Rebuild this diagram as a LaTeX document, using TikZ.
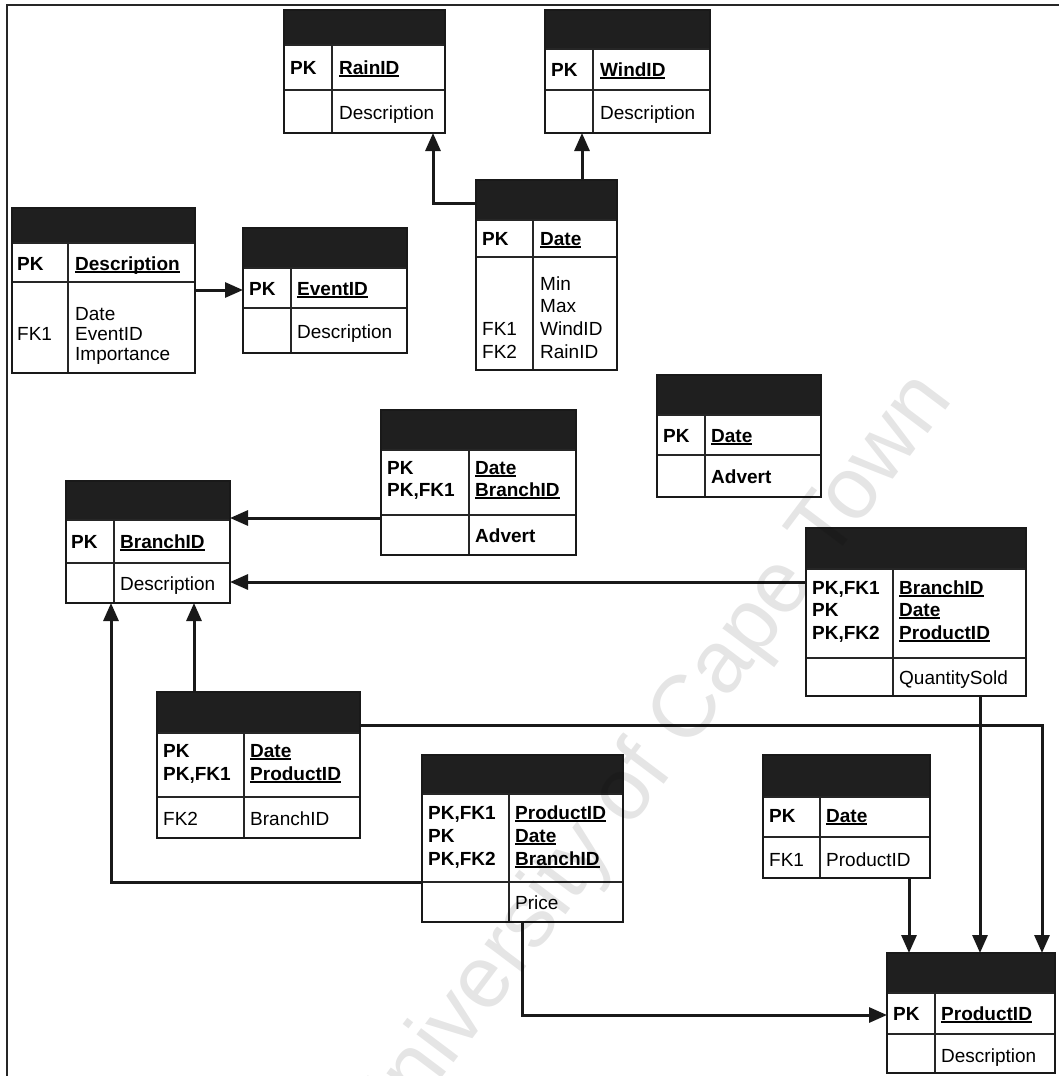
\documentclass[tikz,border=0pt]{standalone}
\usepackage{fontspec}
\setmainfont{Liberation Sans}
\usetikzlibrary{arrows.meta,fit}

% underlined bold key attribute
\newsavebox\ulbox
\newcommand\ukey[1]{\sbox\ulbox{\bfseries #1}\rlap{\rule[-3pt]{\wd\ulbox}{1.6pt}}\usebox\ulbox}

\tikzset{
  tblfit/.style={inner sep=0pt, outer sep=0pt},
  hdrfill/.style={fill=black!88},
  tblrule/.style={line width=2pt, black!85},
  tblframe/.style={line width=2.4pt, black!90},
  txt/.style={anchor=base west, inner sep=0pt, font=\fontsize{19}{22}\selectfont},
  boldtxt/.style={txt, font=\fontsize{19}{22}\selectfont\bfseries},
  fk/.style={line width=3pt, black!90, -{Triangle[length=18pt,width=15pt]}},
  pageframe/.style={line width=2pt, black!85},
  wmark/.style={inner sep=0pt, opacity=0.1, font=\fontsize{88}{88}\selectfont},
}

% table: name, x1, y1, x2, y2, column divider x, header bottom y, key rows bottom y
\newcommand\ertable[8]{%
  \node[tblfit, fit={(#2,#3) (#4,#5)}] (#1) {};
  \fill[hdrfill] (#2,#3) rectangle (#4,#7);
  \draw[tblrule] (#2,#7) -- (#4,#7) (#2,#8) -- (#4,#8) (#6,#7) -- (#6,#5);
  \draw[tblframe] (#2,#3) rectangle (#4,#5);
}

\begin{document}
\begin{tikzpicture}[x=1pt, y=-1pt]
\useasboundingbox (0,0) rectangle (1059,1076);
\fill[white] (0,0) rectangle (1059,1076);

% page frame (top and left edges)
\draw[pageframe] (7,1076) -- (7,5) -- (1059,5);

% ---- Rain ----
\ertable{rain}{284}{10}{445}{133}{332}{45}{90}
\node[boldtxt] (rain-pk) at (290,74) {PK};
\node[txt] (rain-id) at (339,74) {\ukey{RainID}};
\node[txt] (rain-desc) at (339,119) {Description};

% ---- Wind ----
\ertable{wind}{545}{10}{710}{133}{593}{49}{90}
\node[boldtxt] (wind-pk) at (551,76) {PK};
\node[txt] (wind-id) at (600,76) {\ukey{WindID}};
\node[txt] (wind-desc) at (600,119) {Description};

% ---- Weather ----
\ertable{weather}{476}{180}{617}{370}{533}{220}{257}
\node[boldtxt] (we-pk) at (482,245) {PK};
\node[txt] (we-date) at (540,245) {\ukey{Date}};
\node[txt] (we-min) at (540,290) {Min};
\node[txt] (we-max) at (540,312) {Max};
\node[txt] (we-wind) at (540,335) {WindID};
\node[txt] (we-rain) at (540,358) {RainID};
\node[txt] (we-fk1) at (482,335) {FK1};
\node[txt] (we-fk2) at (482,358) {FK2};

% ---- Events ----
\ertable{events}{12}{208}{195}{373}{68}{243}{282}
\node[boldtxt] (ev-pk) at (17,270) {PK};
\node[txt] (ev-desc) at (75,270) {\ukey{Description}};
\node[txt] (ev-date) at (75,320) {Date};
\node[txt] (ev-eid) at (75,340) {EventID};
\node[txt] (ev-imp) at (75,360) {Importance};
\node[txt] (ev-fk1) at (17,340) {FK1};

% ---- Event types ----
\ertable{eventid}{243}{228}{407}{353}{291}{268}{308}
\node[boldtxt] (et-pk) at (249,295) {PK};
\node[txt] (et-id) at (297,295) {\ukey{EventID}};
\node[txt] (et-desc) at (297,338) {Description};

% ---- Branch ----
\ertable{branch}{66}{481}{230}{603}{114}{520}{563}
\node[boldtxt] (br-pk) at (71,548) {PK};
\node[txt] (br-id) at (120,548) {\ukey{BranchID}};
\node[txt] (br-desc) at (120,590) {Description};

% ---- Branch adverts ----
\ertable{advbranch}{381}{410}{576}{555}{469}{450}{515}
\node[boldtxt] (ab-pk1) at (387,474) {PK};
\node[boldtxt] (ab-pk2) at (387,496) {PK,FK1};
\node[txt] (ab-date) at (475,474) {\ukey{Date}};
\node[txt] (ab-br) at (475,496) {\ukey{BranchID}};
\node[boldtxt] (ab-adv) at (475,542) {Advert};

% ---- Adverts by date ----
\ertable{advdate}{657}{375}{821}{497}{705}{415}{455}
\node[boldtxt] (ad-pk) at (663,442) {PK};
\node[txt] (ad-date) at (711,442) {\ukey{Date}};
\node[boldtxt] (ad-adv) at (711,483) {Advert};

% ---- Sales ----
\ertable{sales}{806}{528}{1026}{696}{893}{569}{658}
\node[boldtxt] (sa-k1) at (812,594) {PK,FK1};
\node[boldtxt] (sa-k2) at (812,616) {PK};
\node[boldtxt] (sa-k3) at (812,639) {PK,FK2};
\node[txt] (sa-br) at (899,594) {\ukey{BranchID}};
\node[txt] (sa-date) at (899,616) {\ukey{Date}};
\node[txt] (sa-prod) at (899,639) {\ukey{ProductID}};
\node[txt] (sa-qty) at (899,684) {QuantitySold};

% ---- Product per day ----
\ertable{prodday}{157}{692}{360}{838}{244}{733}{797}
\node[boldtxt] (pd-k1) at (163,757) {PK};
\node[boldtxt] (pd-k2) at (163,780) {PK,FK1};
\node[txt] (pd-date) at (250,757) {\ukey{Date}};
\node[txt] (pd-prod) at (250,780) {\ukey{ProductID}};
\node[txt] (pd-fk2) at (163,825) {FK2};
\node[txt] (pd-br) at (250,825) {BranchID};

% ---- Price ----
\ertable{price}{422}{755}{623}{922}{509}{794}{882}
\node[boldtxt] (pr-k1) at (428,819) {PK,FK1};
\node[boldtxt] (pr-k2) at (428,842) {PK};
\node[boldtxt] (pr-k3) at (428,865) {PK,FK2};
\node[txt] (pr-prod) at (515,819) {\ukey{ProductID}};
\node[txt] (pr-date) at (515,842) {\ukey{Date}};
\node[txt] (pr-br) at (515,865) {\ukey{BranchID}};
\node[txt] (pr-price) at (515,909) {Price};

% ---- Date / product ----
\ertable{dateprod}{763}{755}{930}{878}{820}{797}{837}
\node[boldtxt] (dp-pk) at (769,822) {PK};
\node[txt] (dp-date) at (826,822) {\ukey{Date}};
\node[txt] (dp-fk1) at (769,866) {FK1};
\node[txt] (dp-prod) at (826,866) {ProductID};

% ---- Product ----
\ertable{product}{887}{953}{1055}{1073}{935}{993}{1034}
\node[boldtxt] (po-pk) at (893,1020) {PK};
\node[txt] (po-id) at (941,1020) {\ukey{ProductID}};
\node[txt] (po-desc) at (941,1062) {Description};

% ---- relationships ----
\coordinate (wx) at (582,0);
\draw[fk] (weather.north -| wx) -- (wind.south -| wx);
\coordinate (rb) at (433,203);
\draw[fk] (weather.west |- rb) -| (rain.south -| rb);
\coordinate (ey) at (0,290);
\draw[fk] (events.east |- ey) -- (eventid.west |- ey);
\coordinate (ay) at (0,518);
\draw[fk] (advbranch.west |- ay) -- (branch.east |- ay);
\coordinate (sy) at (0,582);
\draw[fk] (sales.west |- sy) -- (branch.east |- sy);
\coordinate (px) at (194,0);
\draw[fk] (prodday.north -| px) -- (branch.south -| px);
\coordinate (pb) at (111,882);
\draw[fk] (price.west |- pb) -| (branch.south -| pb);
\coordinate (pp) at (522,1015);
\draw[fk] (price.south -| pp) |- (product.west |- pp);
\coordinate (dx) at (909,0);
\draw[fk] (dateprod.south -| dx) -- (product.north -| dx);
\coordinate (qx) at (980,0);
\draw[fk] (sales.south -| qx) -- (product.north -| qx);
\coordinate (pd) at (1042,725);
\draw[fk] (prodday.east |- pd) -| (product.north -| pd);

% watermark
\node[wmark, rotate=53] (wm) at (650,765) {University of Cape Town};
\end{tikzpicture}
\end{document}
